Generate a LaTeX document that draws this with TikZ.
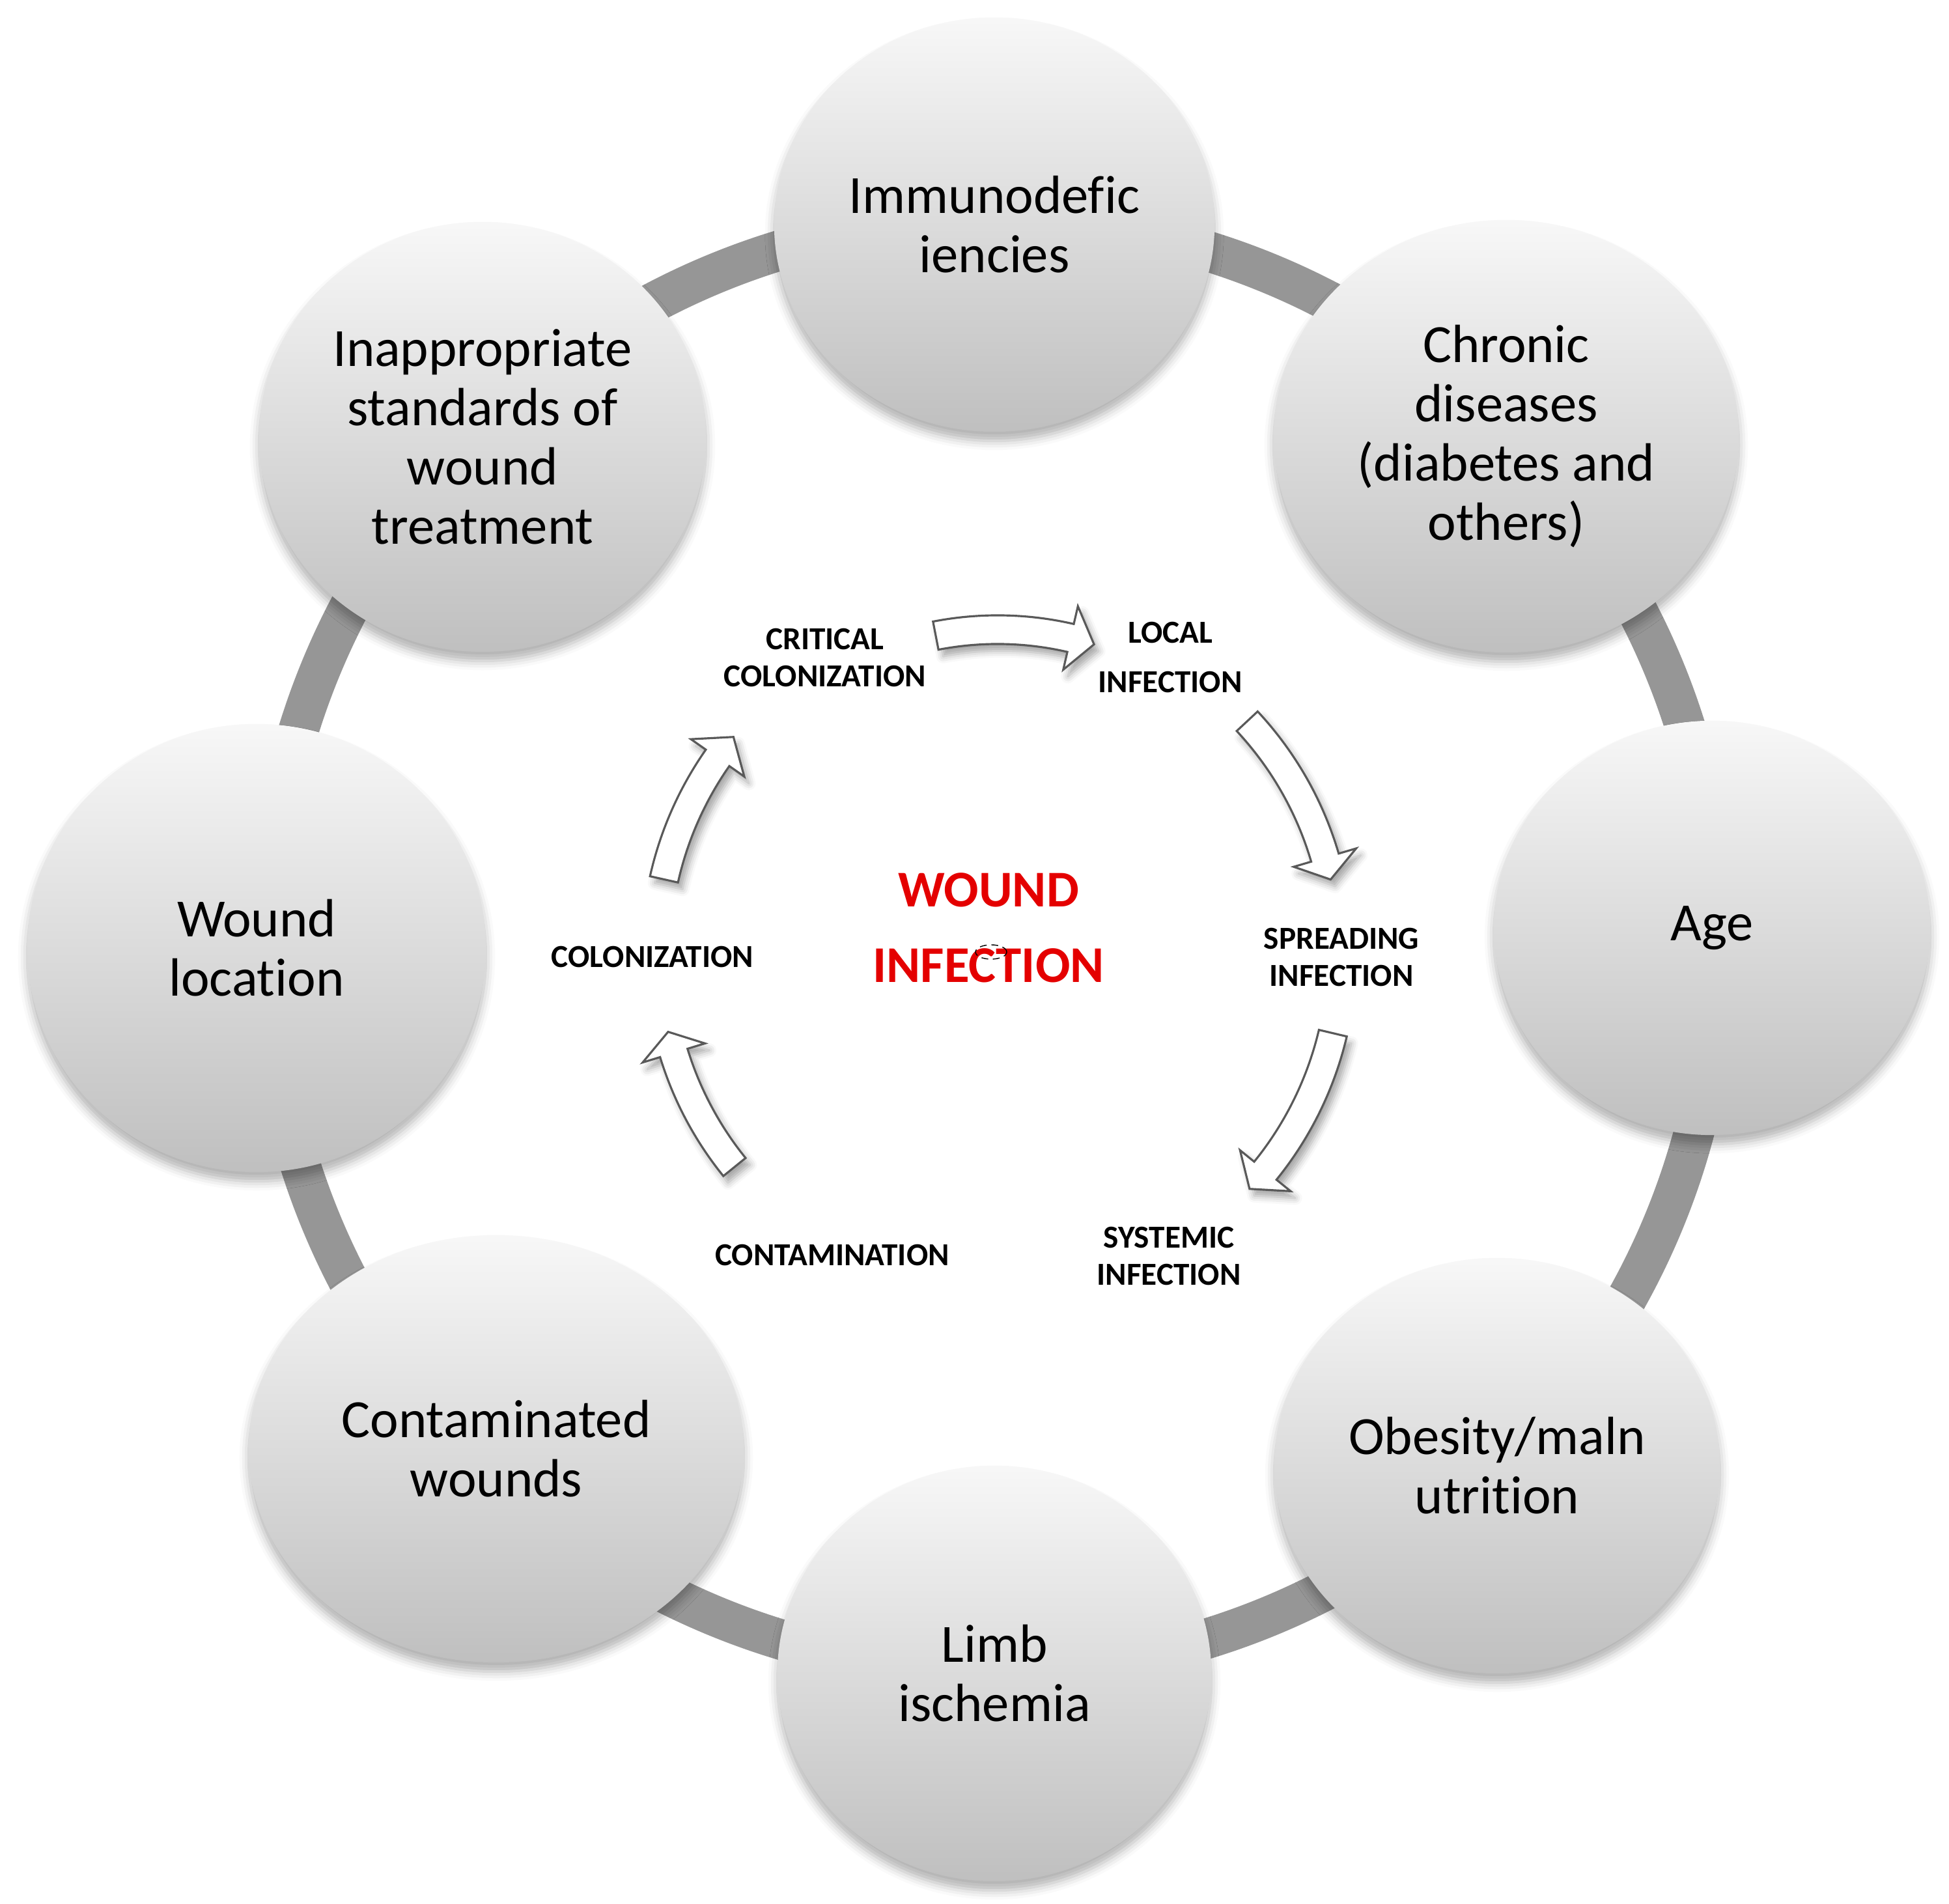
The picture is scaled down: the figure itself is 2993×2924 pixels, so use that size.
\documentclass[tikz,border=0pt]{standalone}
\usepackage{fontspec}
\setmainfont{Carlito}[Ligatures={NoCommon}]
\usetikzlibrary{shapes.geometric,shadows.blur}
\definecolor{infred}{RGB}{228,0,0}

\newcommand{\cycarrow}[4]{%
    \draw[cyclearrow] (#2:{#1-22}) arc[start angle=#2, end angle=#3, radius={#1-22}]
        -- (#3:{#1-50}) -- (#4:#1) -- (#3:{#1+50}) -- (#3:{#1+22})
        arc[start angle=#3, end angle=#2, radius={#1+22}] -- cycle;}

\begin{document}
\begin{tikzpicture}[x=0.01cm, y=0.01cm,
    factor/.style={ellipse, inner sep=0pt, align=center,
        top color=black!3, bottom color=black!25,
        blur shadow={shadow xshift=0pt, shadow yshift=-4pt, shadow blur radius=4pt, shadow opacity=30},
        font=\fontsize{23.5}{25.9}\selectfont},
    stage/.style={align=center, inner sep=0pt, font=\fontsize{14}{16}\selectfont\bfseries},
    ring/.style={draw=black!41, line width=0.62cm},
    cyclearrow/.style={fill=white, draw=black!65, line width=0.9pt,
        blur shadow={shadow xshift=2pt, shadow yshift=-3pt, shadow blur radius=3pt, shadow opacity=35}}]
    \useasboundingbox (0,0) rectangle (2993,2924);
    \coordinate (hub) at (1524,1473);
    \coordinate (cyc) at (1532,1459);
    \draw[ring] (hub) circle (1115);

    \node[factor, minimum width=6.76cm, minimum height=6.36cm] (immuno) at (1527,2579) {Immunodefic\\iencies};
    \node[factor, minimum width=7.14cm, minimum height=6.64cm] (chronic) at (2313,2254) {Chronic\\diseases\\(diabetes and\\others)};
    \node[factor, minimum width=6.70cm, minimum height=6.36cm] (age) at (2629,1499) {Age};
    \node[factor, minimum width=6.84cm, minimum height=6.38cm] (obesity) at (2299,673) {Obesity/maln\\utrition};
    \node[factor, minimum width=6.66cm, minimum height=6.38cm] (limb) at (1527,354) {Limb\\ischemia};
    \node[factor, minimum width=7.60cm, minimum height=6.56cm] (contam) at (762,699) {Contaminated\\wounds};
    \node[factor, minimum width=7.04cm, minimum height=6.88cm] (location) at (394,1468) {Wound\\location};
    \node[factor, minimum width=6.86cm, minimum height=6.60cm] (standards) at (741,2253) {Inappropriate\\standards of\\wound\\treatment};

    \node[stage] (critical) at (1267,1914) {CRITICAL\\COLONIZATION};
    \node[stage, font=\fontsize{14}{21.6}\selectfont\bfseries] (local) at (1797,1914) {LOCAL\\INFECTION};
    \node[stage] (spreading) at (2060,1454) {SPREADING\\INFECTION};
    \node[stage] (systemic) at (1795,995) {SYSTEMIC\\INFECTION};
    \node[stage] (contamination) at (1278,996) {CONTAMINATION};
    \node[stage] (colonization) at (1002,1454) {COLONIZATION};
    \node[align=center, inner sep=0pt, text=infred, font=\fontsize{22.5}{33}\selectfont\bfseries] (infection) at (1518,1499) {WOUND\\INFECTION};
    \draw[densely dashed, line width=0.4pt] (1522,1462) ellipse (24 and 11);

    \begin{scope}[shift={(cyc)}]
        \cycarrow{498}{101}{77}{72.7}
        \cycarrow{524}{43}{16.4}{12.6}
        \cycarrow{529}{-13.3}{-39}{-43}
        \cycarrow{520}{-141}{-163}{-166.7}
        \cycarrow{525}{167.4}{145}{140.6}
    \end{scope}
\end{tikzpicture}
\end{document}
